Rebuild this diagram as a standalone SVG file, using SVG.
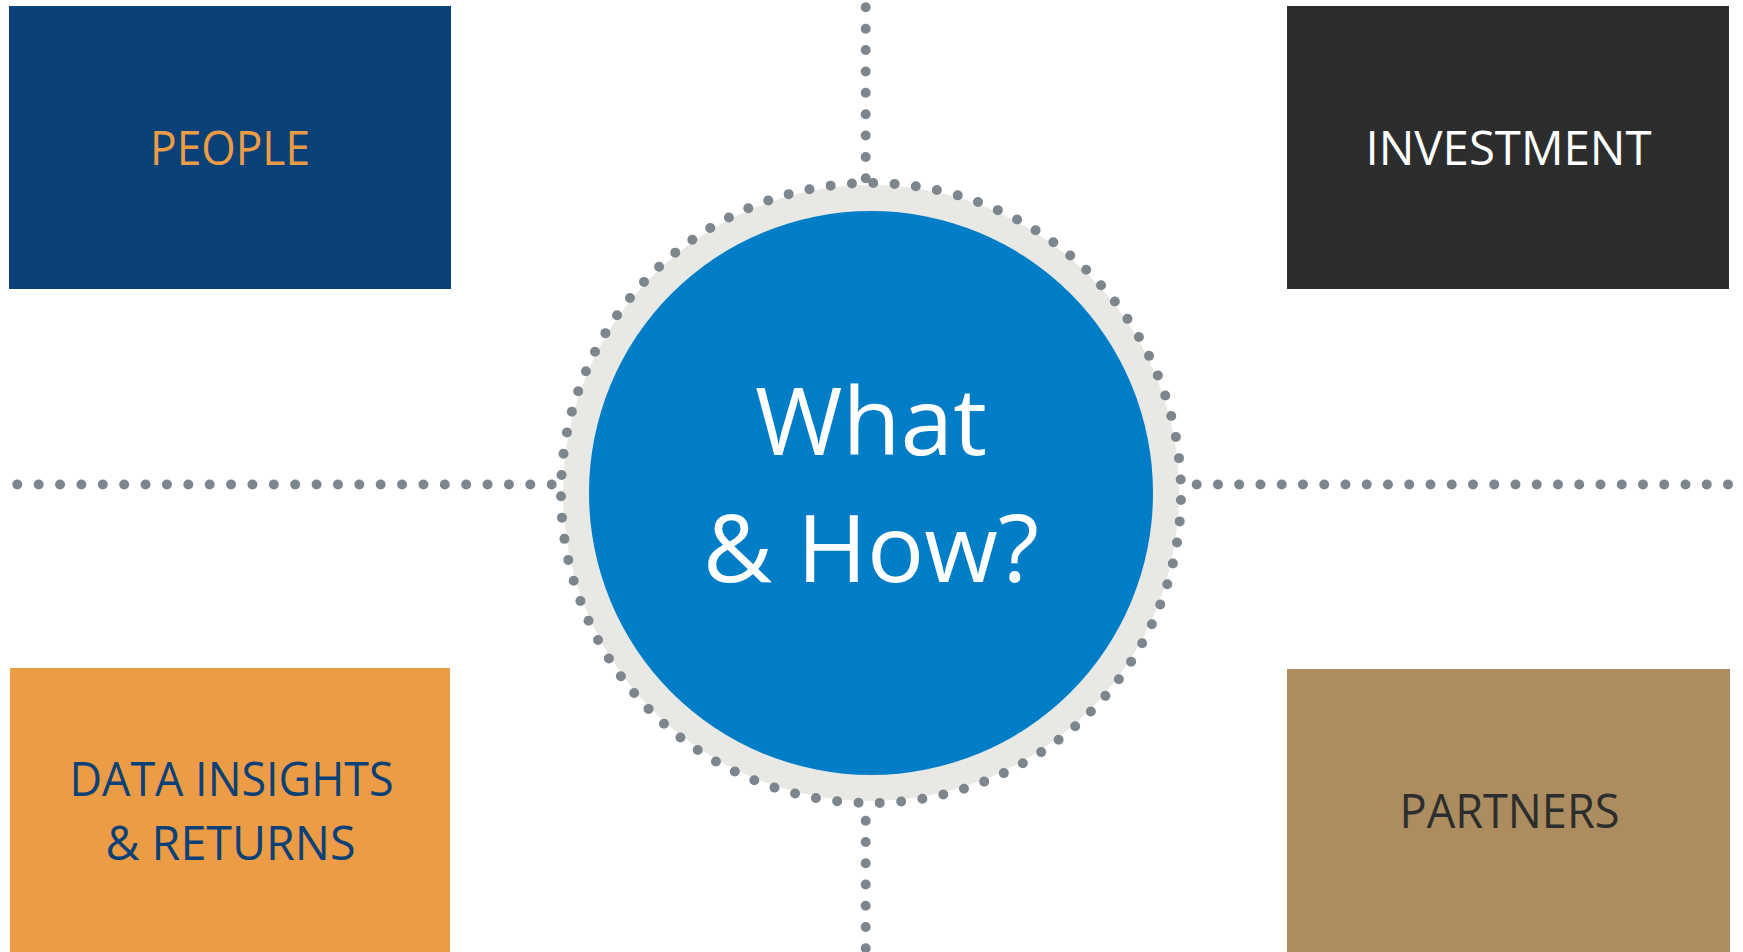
<svg xmlns="http://www.w3.org/2000/svg" width="1743" height="952" viewBox="0 0 1743 952">
  <style>
    .lbl { font-family: "Open Sans", "Noto Sans", "Liberation Sans", sans-serif; font-size: 48px; text-anchor: middle; }
    .big { font-family: "Open Sans", "Noto Sans", "Liberation Sans", sans-serif; font-size: 94px; text-anchor: middle; fill: #FFFFFF; }
    .dots { fill: none; stroke: #7D868C; stroke-width: 10; stroke-linecap: round; }
  </style>
  <rect width="1743" height="952" fill="#FFFFFF"/>
  <g id="connectors">
    <line class="dots" x1="17.3" y1="484.5" x2="552.2" y2="484.5" stroke-dasharray="0 21.376"/>
    <line class="dots" x1="1196.7" y1="484.5" x2="1728.5" y2="484.5" stroke-dasharray="0 21.252"/>
    <line class="dots" x1="865.7" y1="7.3" x2="865.7" y2="178.8" stroke-dasharray="0 21.375"/>
    <line class="dots" x1="865.7" y1="820.7" x2="865.7" y2="948.8" stroke-dasharray="0 21.267"/>
  </g>
  <g id="people">
    <rect x="9" y="6" width="442" height="283" fill="#0B4179"/>
    <text class="lbl" x="230" y="165" fill="#EC9C44" textLength="160" lengthAdjust="spacingAndGlyphs">PEOPLE</text>
  </g>
  <g id="investment">
    <rect x="1287" y="6" width="442" height="283" fill="#2C2E2D"/>
    <text class="lbl" x="1508.5" y="165" fill="#FFFFFF" textLength="286" lengthAdjust="spacingAndGlyphs">INVESTMENT</text>
  </g>
  <g id="data-insights">
    <rect x="10" y="668" width="440" height="284" fill="#EC9C44"/>
    <text class="lbl" x="231.5" y="795.7" fill="#0B4179" textLength="324" lengthAdjust="spacingAndGlyphs">DATA INSIGHTS</text>
    <text class="lbl" x="230.5" y="860" fill="#0B4179" textLength="250" lengthAdjust="spacingAndGlyphs">&amp; RETURNS</text>
  </g>
  <g id="partners">
    <rect x="1287" y="669" width="443" height="283" fill="#AD8D5F"/>
    <text class="lbl" x="1509.5" y="828.3" fill="#2C2E2D" textLength="220" lengthAdjust="spacingAndGlyphs">PARTNERS</text>
  </g>
  <g id="center">
    <circle cx="871" cy="493" r="308" fill="#E8E9E5"/>
    <circle class="dots" cx="871" cy="493" r="310" stroke-dasharray="0 21.404" stroke-dashoffset="-7.03"/>
    <circle cx="871" cy="493" r="282" fill="#007DC7"/>
    <text class="big" x="871" y="455" textLength="232" lengthAdjust="spacingAndGlyphs">What</text>
    <text class="big" x="871" y="582.3" textLength="336" lengthAdjust="spacingAndGlyphs">&amp; How?</text>
  </g>
</svg>
